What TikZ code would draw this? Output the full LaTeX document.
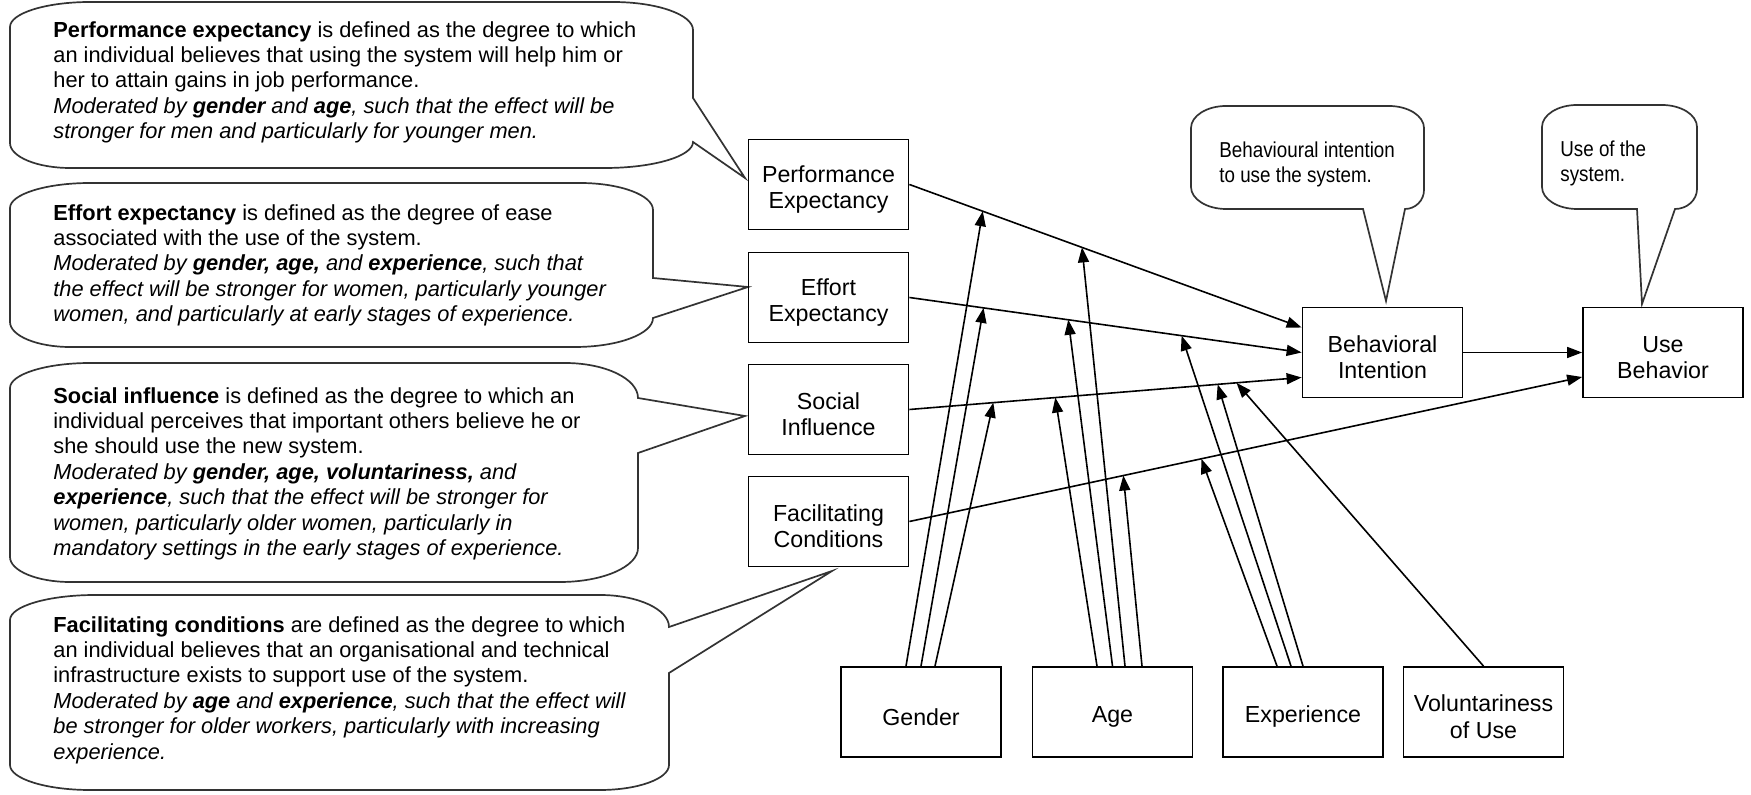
\documentclass[tikz,border=0pt]{standalone}
\usepackage{fontspec}
\setmainfont{Liberation Sans}
\newfontfamily\narrowfam[FakeStretch=0.87]{Liberation Sans}
\usetikzlibrary{arrows.meta,calc}

\newcommand\bubfont{\fontsize{10.9}{12.7}\selectfont}
\newcommand\callfont{\narrowfam\fontsize{10.8}{12.5}\selectfont}
\newcommand\boxfont{\fontsize{11.6}{13.2}\selectfont}
% strut that sets the box labels a little below the middle
\newcommand\dropstrut{\rule{0pt}{13.3pt}}
% rounded corner from #1 to #3 around the corner point #2
\newcommand\crn[3]{.. controls ($(#1)!0.55!(#2)$) and ($(#3)!0.55!(#2)$) .. (#3)}

\tikzset{
  box/.style={draw=black, line width=0.9pt, minimum width=80pt, minimum height=45pt,
              inner sep=1pt, align=center, font=\boxfont},
  conn/.style={line width=0.8pt, -{Triangle[length=7.5pt,width=5.5pt]}},
  bubble/.style={draw=black!80, line width=0.85pt, fill=white},
  note/.style={anchor=north west, inner sep=0pt, align=left, font=\bubfont},
}

\begin{document}
\begin{tikzpicture}[x=0.5pt,y=-0.5pt]
\fill[white] (0,0) rectangle (1751,795);
\useasboundingbox (0,0) rectangle (1751,795);

% speech bubbles with the definitions
\draw[bubble] (10,27) \crn{10,27}{10,2}{90,2} -- (613,2) \crn{613,2}{693,2}{693,30}
  -- (693,98) -- (745,178) -- (693,142) \crn{693,142}{693,168}{605,168}
  -- (70,168) \crn{70,168}{10,168}{10,143} -- cycle;
\draw[bubble] (10,208) \crn{10,208}{10,183}{90,183} -- (580,183) \crn{580,183}{653,183}{653,210}
  -- (653,278) -- (748,287) -- (653,318) \crn{653,318}{653,347}{575,347}
  -- (70,347) \crn{70,347}{10,347}{10,322} -- cycle;
\draw[bubble] (10,388) \crn{10,388}{10,363}{90,363} -- (565,363) \crn{565,363}{638,363}{638,398}
  -- (745,416) -- (638,453) -- (638,548) \crn{638,548}{638,582}{560,582}
  -- (70,582) \crn{70,582}{10,582}{10,557} -- cycle;
\draw[bubble] (10,620) \crn{10,620}{10,595}{95,595} -- (600,595) \crn{600,595}{669,595}{669,627}
  -- (832,571) -- (669,673) -- (669,765) \crn{669,765}{669,790}{600,790}
  -- (90,790) \crn{90,790}{10,790}{10,765} -- cycle;
\draw[bubble] (1191,128) \crn{1191,128}{1191,106}{1226,106} -- (1389,106) \crn{1389,106}{1424,106}{1424,128}
  -- (1424,190) \crn{1424,190}{1424,209}{1405,209} -- (1386,301) -- (1363,209)
  -- (1226,209) \crn{1226,209}{1191,209}{1191,187} -- cycle;
\draw[bubble] (1542,127) \crn{1542,127}{1542,105}{1577,105} -- (1662,105) \crn{1662,105}{1697,105}{1697,127}
  -- (1697,189) \crn{1697,189}{1697,209}{1675,209} -- (1642,304) -- (1637,209)
  -- (1577,209) \crn{1577,209}{1542,209}{1542,187} -- cycle;

\node[note] (tPE) at (53,21) {\textbf{Performance expectancy} is defined as the degree to which\\
  an individual believes that using the system will help him or\\
  her to attain gains in job performance.\\
  \textit{Moderated by \textbf{gender} and \textbf{age}, such that the effect will be}\\
  \textit{stronger for men and particularly for younger men.}};
\node[note] (tEE) at (53,204) {\textbf{Effort expectancy} is defined as the degree of ease\\
  associated with the use of the system.\\
  \textit{Moderated by \textbf{gender, age,} and \textbf{experience}, such that}\\
  \textit{the effect will be stronger for women, particularly younger}\\
  \textit{women, and particularly at early stages of experience.}};
\node[note] (tSI) at (53,387) {\textbf{Social influence} is defined as the degree to which an\\
  individual perceives that important others believe he or\\
  she should use the new system.\\
  \textit{Moderated by \textbf{gender, age, voluntariness,} and}\\
  \textit{\textbf{experience}, such that the effect will be stronger for}\\
  \textit{women, particularly older women, particularly in}\\
  \textit{mandatory settings in the early stages of experience.}};
\node[note] (tFC) at (53,616) {\textbf{Facilitating conditions} are defined as the degree to which\\
  an individual believes that an organisational and technical\\
  infrastructure exists to support use of the system.\\
  \textit{Moderated by \textbf{age} and \textbf{experience}, such that the effect will}\\
  \textit{be stronger for older workers, particularly with increasing}\\
  \textit{experience.}};
\node[note, font=\callfont] (tBI) at (1219,141) {Behavioural intention\\to use the system.};
\node[note, font=\callfont] (tUB) at (1560,140) {Use of the\\system.};

% constructs
\node[box] (PE) at (828.5,184.5) {\dropstrut Performance\\Expectancy};
\node[box] (EE) at (828.5,297.5) {\dropstrut Effort\\Expectancy};
\node[box] (SI) at (828.5,409.5) {\dropstrut Social\\Influence};
\node[box] (FC) at (828.5,521.5) {\dropstrut Facilitating\\Conditions};
\node[box] (BI) at (1382.5,352.5) {\dropstrut Behavioral\\Intention};
\node[box] (UB) at (1663,352.5) {\dropstrut Use\\Behavior};
% moderators
\node[box] (GEN) at (921,712) {\dropstrut Gender};
\node[box] (AGE) at (1112.5,712) {\dropstrut Age};
\node[box] (EXP) at (1303,712) {\dropstrut Experience};
\node[box] (VOL) at (1483.5,712) {\dropstrut Voluntariness\\of Use};

% main paths
\draw[conn] (PE.east) -- coordinate[pos=0.187] (peG) coordinate[pos=0.44] (peA)
  ([yshift=12.5pt]BI.west);
\draw[conn] (EE.east) -- coordinate[pos=0.189] (eeG) coordinate[pos=0.405] (eeA)
  coordinate[pos=0.694] (eeX) (BI.west);
\draw[conn] (SI.east) -- coordinate[pos=0.214] (siG) coordinate[pos=0.372] (siA)
  coordinate[pos=0.786] (siX) coordinate[pos=0.834] (siV) ([yshift=-12.5pt]BI.west);
\draw[conn] (FC.east) -- coordinate[pos=0.318] (fcA) coordinate[pos=0.434] (fcX)
  ([yshift=-12.25pt]UB.west);
\draw[conn] (BI.east) -- (UB.west);

% moderating effects
\draw[conn] ([xshift=-7.5pt]GEN.north) -- (peG);
\draw[conn] (GEN.north) -- (eeG);
\draw[conn] ([xshift=7pt]GEN.north) -- (siG);
\draw[conn] ([xshift=-7.75pt]AGE.north) -- (siA);
\draw[conn] (AGE.north) -- (eeA);
\draw[conn] ([xshift=6.25pt]AGE.north) -- (peA);
\draw[conn] ([xshift=14.75pt]AGE.north) -- (fcA);
\draw[conn] ([xshift=-13pt]EXP.north) -- (fcX);
\draw[conn] ([xshift=-6pt]EXP.north) -- (eeX);
\draw[conn] (EXP.north) -- (siX);
\draw[conn] (VOL.north) -- (siV);
\end{tikzpicture}
\end{document}
